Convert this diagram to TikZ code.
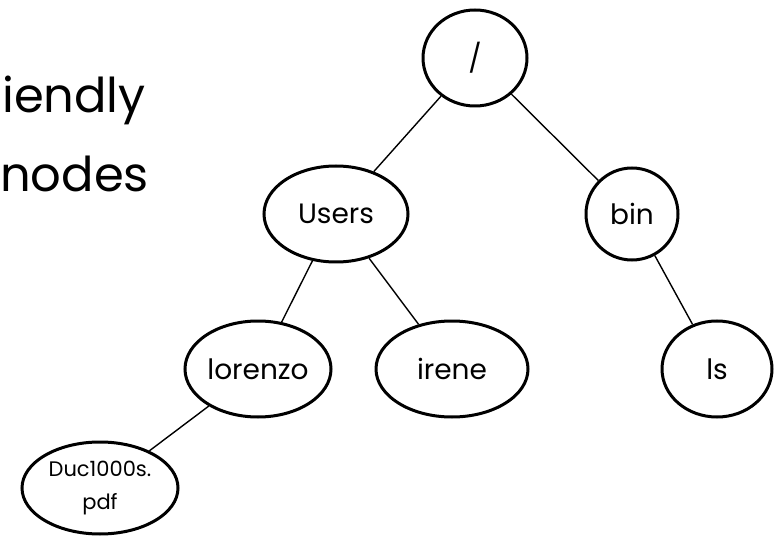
\documentclass[tikz,border=0pt]{standalone}
\usepackage{fontspec}
\setmainfont{Poppins}
\usetikzlibrary{shapes.geometric}
\tikzset{
  dirnode/.style={ellipse, draw, line width=3pt, inner sep=0pt,
    minimum width=#1, font=\fontsize{28}{30}\selectfont},
  edge/.style={line width=1.4pt},
  bigtext/.style={anchor=base west, inner sep=0pt, font=\fontsize{48}{52}\selectfont}
}
\begin{document}
\begin{tikzpicture}[x=1pt,y=-1pt]
  \useasboundingbox (0,0) rectangle (776,537);
  % heading text on the left
  \node[bigtext] (t1) at (2,113) {iendly};
  \node[bigtext] (t2) at (0,192) {nodes};
  % directory tree
  \node[dirnode=104pt, minimum height=96pt] (root) at (475,58) {/};
  \node[dirnode=144pt, minimum height=96pt] (users) at (336,214) {Users};
  \node[dirnode=92pt, minimum height=92pt] (bin) at (632,214) {bin};
  \node[dirnode=146pt, minimum height=96pt] (lorenzo) at (258,369) {lorenzo};
  \node[dirnode=152pt, minimum height=96pt] (irene) at (452,369) {irene};
  \node[dirnode=110pt, minimum height=96pt] (ls) at (717,369) {ls};
  \node[dirnode=156pt, minimum height=92pt, align=center,
        font=\fontsize{21}{33}\selectfont] (duc) at (100,488) {Duc1000s.\\pdf};
  \draw[edge] (root) -- (users);
  \draw[edge] (root) -- (bin);
  \draw[edge] (users) -- (lorenzo);
  \draw[edge] (users) -- (irene);
  \draw[edge] (bin) -- (ls);
  \draw[edge] (lorenzo) -- (duc);
\end{tikzpicture}
\end{document}
